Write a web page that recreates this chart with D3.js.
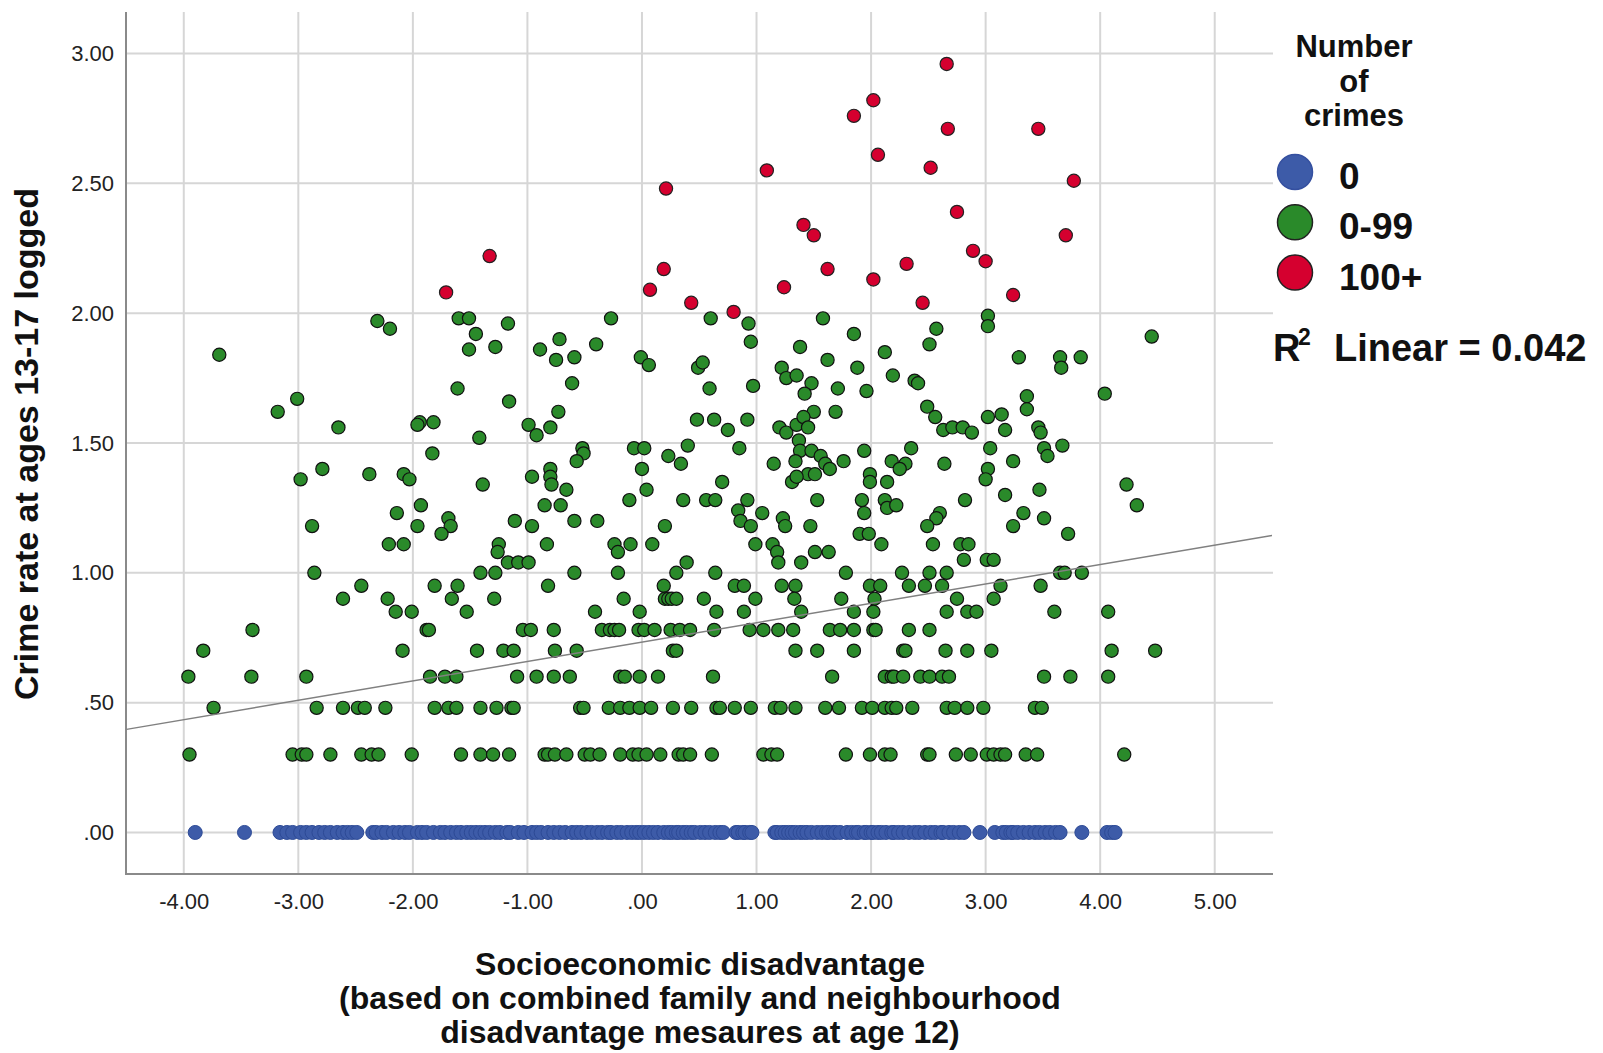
<!DOCTYPE html>
<html>
<head>
<meta charset="utf-8">
<script src="https://cdn.jsdelivr.net/npm/d3@7"></script>
<style>
  body { margin: 0; background: #fff; }
  svg { display: block; font-family: "Liberation Sans", Arial, sans-serif; }
</style>
</head>
<body>
<svg width="1603" height="1053"></svg>
<script>
// tick values
const xTicks = [-4, -3, -2, -1, 0, 1, 2, 3, 4, 5];
const yTicks = [0, 0.5, 1, 1.5, 2, 2.5, 3];

// group 0: no crimes (all at .00)
const zeroCrimes = [
    -3.90, -3.47,
    -3.16, -3.10, -3.05, -2.98, -2.93, -2.88, -2.82, -2.77, -2.72, -2.66, -2.61, -2.57, -2.53, -2.49,
    -2.35, -2.32, -2.27, -2.23, -2.17, -2.12, -2.07, -2.03, -1.96, -1.92, -1.88, -1.82, -1.76, -1.72,
    -1.67, -1.62, -1.58, -1.53, -1.49, -1.45, -1.41, -1.37, -1.33, -1.28, -1.24, -1.18,
    -1.15, -1.08, -1.03, -0.96, -0.92, -0.88, -0.82, -0.77, -0.72, -0.67, -0.61, -0.57, -0.53, -0.48,
    -0.44, -0.39, -0.35, -0.30, -0.27, -0.22, -0.18, -0.13, -0.09, -0.05, -0.02, 0.02, 0.06, 0.10,
    0.14, 0.19, 0.23, 0.26, 0.30, 0.32, 0.36, 0.39, 0.43, 0.46, 0.51, 0.55, 0.59, 0.64, 0.68, 0.71,
    0.82, 0.84, 0.88, 0.90, 0.94, 0.96,
    1.16, 1.18, 1.22, 1.25, 1.28, 1.31, 1.34, 1.38, 1.41, 1.44, 1.48, 1.53, 1.57, 1.61, 1.63, 1.67,
    1.69, 1.73, 1.79, 1.83, 1.87, 1.89, 1.94, 1.96, 2.00, 2.02, 2.06, 2.09, 2.13, 2.18, 2.20, 2.24,
    2.28, 2.33, 2.38, 2.42, 2.47, 2.52, 2.56, 2.61, 2.63, 2.68, 2.72, 2.77, 2.81,
    2.95, 3.08, 3.15, 3.18, 3.22, 3.24, 3.28, 3.33, 3.38, 3.43, 3.47, 3.52, 3.56, 3.61, 3.65,
    3.84, 4.06, 4.10, 4.13
];

// group 0-99: [disadvantage, logged rate]
const someCrimes = [
    [-2.31,1.97],[-2.20,1.94],[-1.60,1.98],[-1.51,1.98],[-3.69,1.84],[-1.45,1.92],[-1.51,1.86],[-1.28,1.87],
    [-1.61,1.71],[-3.01,1.67],[-3.18,1.62],[-2.65,1.56],[-1.94,1.58],[-1.96,1.57],[-1.82,1.58],[-1.42,1.52],
    [-1.83,1.46],[-2.79,1.40],[-2.98,1.36],[-2.38,1.38],[-2.08,1.38],[-2.03,1.36],[-1.39,1.34],[-1.93,1.26],
    [-2.14,1.23],[-2.88,1.18],[-1.96,1.18],[-1.69,1.21],[-1.67,1.18],[-1.75,1.15],[-2.21,1.11],[-2.08,1.11],
    [-1.25,1.11],[-1.26,1.08],[-2.86,1.00],[-1.41,1.00],[-1.28,1.00],[-2.45,0.95],[-1.81,0.95],[-1.61,0.95],
    [-2.61,0.90],[-2.22,0.90],[-1.66,0.90],[-1.29,0.90],
    [-2.15,0.85],[-2.01,0.85],[-1.53,0.85],
    [-3.40,0.78],[-1.88,0.78],[-1.86,0.78],
    [-3.83,0.70],[-2.09,0.70],[-1.44,0.70],[-1.21,0.70],
    [-3.96,0.60],[-3.41,0.60],[-2.93,0.60],[-1.85,0.60],[-1.72,0.60],[-1.62,0.60],
    [-3.74,0.48],[-2.84,0.48],[-2.61,0.48],[-2.48,0.48],[-2.42,0.48],[-2.24,0.48],[-1.81,0.48],[-1.69,0.48],
    [-1.62,0.48],[-1.41,0.48],[-1.27,0.48],
    [-3.95,0.30],[-3.05,0.30],[-2.97,0.30],[-2.93,0.30],[-2.72,0.30],[-2.45,0.30],[-2.36,0.30],[-2.30,0.30],
    [-2.01,0.30],[-1.58,0.30],[-1.41,0.30],[-1.30,0.30],
    [-1.17,1.96],[-0.27,1.98],[0.60,1.98],[0.93,1.96],[0.95,1.89],[1.58,1.98],[1.85,1.92],[1.38,1.87],
    [1.62,1.82],[2.12,1.85],[1.88,1.79],[2.19,1.76],
    [-0.72,1.90],[-0.89,1.86],[-0.75,1.82],[-0.59,1.83],[-0.40,1.88],[-0.61,1.73],[-1.16,1.66],[-0.73,1.62],
    [-0.99,1.57],[-0.92,1.53],[-0.80,1.56],
    [-0.01,1.83],[0.06,1.80],[0.49,1.79],[0.53,1.81],[0.59,1.71],[0.97,1.72],[0.48,1.59],[0.63,1.59],
    [0.92,1.59],[0.75,1.55],
    [1.22,1.79],[1.26,1.75],[1.35,1.76],[1.48,1.73],[1.42,1.69],[1.71,1.71],[1.96,1.70],[1.69,1.62],[1.50,1.62],
    [1.20,1.56],[1.26,1.54],[1.35,1.57],[1.41,1.60],[1.45,1.56],[1.37,1.51],[1.38,1.47],[1.48,1.47],
    [1.56,1.45],[1.34,1.43],[1.60,1.42],[1.64,1.40],[1.76,1.43],[1.94,1.47],[2.18,1.43],
    [-0.52,1.48],[-0.51,1.46],[-0.57,1.43],[-0.07,1.48],[0.02,1.48],[0.40,1.49],[0.23,1.45],[0.34,1.42],
    [0.85,1.48],[1.15,1.42],
    [-0.80,1.40],[-0.80,1.37],[-0.79,1.34],[-0.96,1.37],[-0.66,1.32],[0.00,1.40],[0.04,1.32],[0.70,1.35],
    [1.45,1.38],[1.51,1.38],[1.31,1.35],[1.35,1.37],[1.99,1.38],[1.99,1.35],[2.14,1.35],
    [-0.85,1.26],[-0.71,1.26],[-1.11,1.20],[-0.96,1.18],[-0.59,1.20],[-0.39,1.20],[-0.11,1.28],[0.36,1.28],
    [0.56,1.28],[0.64,1.28],[0.92,1.28],[1.05,1.23],[0.84,1.24],[0.86,1.20],[0.95,1.18],[0.20,1.18],
    [1.23,1.21],[1.25,1.18],[1.47,1.18],[1.53,1.28],[1.92,1.28],[1.94,1.23],[2.12,1.28],[2.14,1.25],
    [-0.83,1.11],[-0.24,1.11],[-0.21,1.08],[-0.10,1.11],[0.09,1.11],[0.99,1.11],[1.14,1.11],[1.18,1.08],
    [1.19,1.04],[1.39,1.04],[1.51,1.08],[1.63,1.08],[1.90,1.15],[1.98,1.15],[2.09,1.11],
    [-1.17,1.04],[-1.08,1.04],[-0.99,1.04],[-0.59,1.00],[-0.21,1.00],[0.30,1.00],[0.39,1.04],[0.64,1.00],
    [1.78,1.00],
    [-0.82,0.95],[0.19,0.95],[0.81,0.95],[0.89,0.95],[1.22,0.95],[1.34,0.95],[1.99,0.95],[2.08,0.95],
    [3.02,1.99],[3.02,1.95],[2.57,1.94],[2.51,1.88],[2.38,1.74],[2.41,1.73],[3.29,1.83],[3.65,1.83],
    [3.66,1.79],[3.83,1.83],[4.45,1.91],[4.04,1.69],[3.36,1.68],[3.36,1.63],[2.49,1.64],[2.56,1.60],
    [3.02,1.60],[3.14,1.61],[3.17,1.55],[3.46,1.56],[3.48,1.54],[2.63,1.55],[2.71,1.56],[2.80,1.56],
    [2.88,1.54],[2.35,1.48],[3.04,1.48],[3.51,1.48],[3.67,1.49],[3.54,1.45],[2.30,1.42],[2.25,1.40],
    [2.64,1.42],[3.24,1.43],[3.02,1.40],[3.00,1.36],[4.23,1.34],[3.47,1.32],[3.17,1.30],[2.82,1.28],
    [4.32,1.26],[2.22,1.26],[2.60,1.23],[2.57,1.21],[2.49,1.18],[3.33,1.23],[3.51,1.21],[3.24,1.18],
    [3.72,1.15],[2.54,1.11],[2.78,1.11],[2.85,1.11],[2.81,1.05],[3.01,1.05],[3.07,1.05],[2.27,1.00],
    [2.51,1.00],[2.66,1.00],[3.65,1.00],[3.69,1.00],[3.84,1.00],[2.33,0.95],[2.47,0.95],[2.62,0.95],
    [3.13,0.95],[3.48,0.95],
    [-0.16,0.90],[0.20,0.90],[0.23,0.90],[0.26,0.90],[0.30,0.90],[0.54,0.90],[0.99,0.90],[1.33,0.90],
    [1.74,0.90],[2.03,0.90],[2.75,0.90],[3.07,0.90],
    [-0.41,0.85],[-0.02,0.85],[0.65,0.85],[0.89,0.85],[1.39,0.85],[1.85,0.85],[2.02,0.85],
    [2.66,0.85],[2.84,0.85],[2.92,0.85],[3.60,0.85],[4.07,0.85],
    [-1.04,0.78],[-0.97,0.78],[-0.77,0.78],[-0.35,0.78],[-0.28,0.78],[-0.24,0.78],[-0.20,0.78],[-0.03,0.78],
    [0.02,0.78],[0.11,0.78],[0.25,0.78],[0.33,0.78],[0.42,0.78],[0.63,0.78],[0.94,0.78],[1.06,0.78],
    [1.19,0.78],[1.32,0.78],[1.64,0.78],[1.73,0.78],[1.85,0.78],[2.02,0.78],[2.04,0.78],[2.33,0.78],[2.51,0.78],
    [-1.12,0.70],[-0.76,0.70],[-0.57,0.70],[0.27,0.70],[0.30,0.70],[1.34,0.70],[1.53,0.70],[1.85,0.70],
    [2.28,0.70],[2.30,0.70],[2.65,0.70],[2.84,0.70],[3.05,0.70],[4.10,0.70],[4.48,0.70],
    [-1.09,0.60],[-0.92,0.60],[-0.77,0.60],[-0.63,0.60],[-0.19,0.60],[-0.15,0.60],[-0.02,0.60],[0.14,0.60],
    [0.62,0.60],[1.66,0.60],[2.12,0.60],[2.18,0.60],[2.20,0.60],[2.28,0.60],[2.43,0.60],[2.51,0.60],
    [2.62,0.60],[2.68,0.60],[3.51,0.60],[3.74,0.60],[4.07,0.60],
    [-1.14,0.48],[-1.12,0.48],[-0.54,0.48],[-0.51,0.48],[-0.29,0.48],[-0.19,0.48],[-0.11,0.48],[-0.02,0.48],
    [0.08,0.48],[0.27,0.48],[0.43,0.48],[0.65,0.48],[0.68,0.48],[0.81,0.48],[0.95,0.48],[1.16,0.48],
    [1.21,0.48],[1.34,0.48],[1.60,0.48],[1.72,0.48],[1.92,0.48],[2.01,0.48],[2.12,0.48],[2.18,0.48],
    [2.22,0.48],[2.36,0.48],[2.66,0.48],[2.73,0.48],[2.84,0.48],[2.98,0.48],[3.43,0.48],[3.49,0.48],
    [-1.16,0.30],[-0.85,0.30],[-0.82,0.30],[-0.76,0.30],[-0.66,0.30],[-0.50,0.30],[-0.45,0.30],[-0.37,0.30],
    [-0.19,0.30],[-0.08,0.30],[-0.03,0.30],[0.04,0.30],[0.16,0.30],[0.32,0.30],[0.36,0.30],[0.42,0.30],
    [0.61,0.30],[1.06,0.30],[1.13,0.30],[1.18,0.30],[1.78,0.30],[1.99,0.30],[2.12,0.30],[2.17,0.30],
    [2.49,0.30],[2.51,0.30],[2.74,0.30],[2.87,0.30],[3.01,0.30],[3.07,0.30],[3.13,0.30],[3.17,0.30],
    [3.35,0.30],[3.45,0.30],[4.21,0.30]
];

// group 100+
const manyCrimes = [
    [-1.33,2.22],[-1.71,2.08],[2.02,2.82],[1.85,2.76],[2.06,2.61],[1.09,2.55],[0.21,2.48],[1.41,2.34],
    [1.50,2.30],[0.19,2.17],[1.62,2.17],[2.02,2.13],[0.07,2.09],[1.24,2.10],[0.43,2.04],[0.80,2.005],
    [2.66,2.96],[2.67,2.71],[3.46,2.71],[2.52,2.56],[3.77,2.51],[2.75,2.39],[3.70,2.30],[2.89,2.24],
    [3.00,2.20],[2.31,2.19],[2.45,2.04],[3.24,2.07]
];

// linear fit
const fitIntercept = 0.733;
const fitSlope = 0.0747;

const groups = ['0', '0-99', '100+'];
const fills = ['#3d5ba8', '#2a8a2a', '#d5002f'];
const strokes = ['#2d4a96', '#111', '#222'];

const svg = d3.select('svg');

const x = d3.scaleLinear().domain([-4.5, 5.5]).range([126.5, 1272]);
const y = d3.scaleLinear().domain([-0.16, 3.16]).range([874, 12]);

// SPSS style: ".00", "-4.00" (plain hyphen)
const fmt = v => d3.format('.2f')(v).replace('\u2212', '-').replace(/^0\./, '.');

// grid
svg.append('g')
    .selectAll('line.vg')
    .data(xTicks)
    .enter().append('line')
    .attr('x1', d => x(d)).attr('x2', d => x(d))
    .attr('y1', y.range()[1]).attr('y2', y.range()[0])
    .attr('stroke', '#d6d6d6').attr('stroke-width', 2);

svg.append('g')
    .selectAll('line.hg')
    .data(yTicks)
    .enter().append('line')
    .attr('x1', x.range()[0]).attr('x2', 1273)
    .attr('y1', d => y(d)).attr('y2', d => y(d))
    .attr('stroke', '#d6d6d6').attr('stroke-width', 2);

// axis lines
svg.append('line')
    .attr('x1', 126).attr('x2', 126).attr('y1', 12).attr('y2', 875)
    .attr('stroke', '#8a8a8a').attr('stroke-width', 2);
svg.append('line')
    .attr('x1', 125).attr('x2', 1273).attr('y1', 874).attr('y2', 874)
    .attr('stroke', '#8a8a8a').attr('stroke-width', 2);

// tick labels
const xAxis = svg.append('g')
    .attr('transform', 'translate(0,874)')
    .call(d3.axisBottom(x).tickValues(xTicks).tickFormat(fmt).tickSize(0).tickPadding(19));
xAxis.select('.domain').remove();
xAxis.selectAll('text').attr('font-size', 22).attr('fill', '#222')
    .attr('font-family', '"Liberation Sans", Arial, sans-serif');

const yAxis = svg.append('g')
    .attr('transform', 'translate(126,0)')
    .call(d3.axisLeft(y).tickValues(yTicks).tickFormat(fmt).tickSize(0).tickPadding(12));
yAxis.select('.domain').remove();
yAxis.selectAll('text').attr('font-size', 22).attr('fill', '#222')
    .attr('font-family', '"Liberation Sans", Arial, sans-serif');

// points
const pts = svg.append('g');
pts.selectAll('circle.g0')
    .data(zeroCrimes)
    .enter().append('circle')
    .attr('cx', d => x(d)).attr('cy', y(0)).attr('r', 7)
    .attr('fill', fills[0]).attr('stroke', strokes[0]).attr('stroke-width', 1);

pts.selectAll('circle.g1')
    .data(someCrimes)
    .enter().append('circle')
    .attr('cx', d => x(d[0])).attr('cy', d => y(d[1])).attr('r', 6.6)
    .attr('fill', fills[1]).attr('stroke', strokes[1]).attr('stroke-width', 1.2);

pts.selectAll('circle.g2')
    .data(manyCrimes)
    .enter().append('circle')
    .attr('cx', d => x(d[0])).attr('cy', d => y(d[1])).attr('r', 6.6)
    .attr('fill', fills[2]).attr('stroke', strokes[2]).attr('stroke-width', 1.2);

// fit line
const [x0, x1] = x.domain();
svg.append('line')
    .attr('x1', x(x0)).attr('y1', y(fitIntercept + fitSlope * x0))
    .attr('x2', x(x1)).attr('y2', y(fitIntercept + fitSlope * x1))
    .attr('stroke', '#808080').attr('stroke-width', 1.4);

// axis titles
svg.append('text')
    .attr('transform', 'translate(38,444) rotate(-90)')
    .attr('text-anchor', 'middle')
    .attr('font-size', 34).attr('font-weight', 'bold').attr('fill', '#111')
    .text('Crime rate at ages 13-17 logged');

const xTitle = ['Socioeconomic disadvantage',
    '(based on combined family and neighbourhood',
    'disadvantage mesaures at age 12)'];
svg.append('g').selectAll('text')
    .data(xTitle)
    .enter().append('text')
    .attr('x', 700).attr('y', (d, i) => 975 + i * 34)
    .attr('text-anchor', 'middle')
    .attr('font-size', 32).attr('font-weight', 'bold').attr('fill', '#111')
    .text(d => d);

// legend
const legendTitle = ['Number', 'of', 'crimes'];
svg.append('g').selectAll('text')
    .data(legendTitle)
    .enter().append('text')
    .attr('x', 1354).attr('y', (d, i) => 57 + i * 34.7)
    .attr('text-anchor', 'middle')
    .attr('font-size', 31).attr('font-weight', 'bold').attr('fill', '#111')
    .text(d => d);

const lg = svg.append('g').selectAll('g')
    .data(groups)
    .enter().append('g')
    .attr('transform', (d, i) => `translate(0,${172 + i * 50.3})`);
lg.append('circle')
    .attr('cx', 1295).attr('cy', 0).attr('r', 17.5)
    .attr('fill', (d, i) => fills[i])
    .attr('stroke', (d, i) => i === 0 ? '#3550a0' : '#222')
    .attr('stroke-width', 1.5);
lg.append('text')
    .attr('x', 1339).attr('y', 17)
    .attr('font-size', 37).attr('font-weight', 'bold').attr('fill', '#111')
    .text(d => d);

const r2 = svg.append('text')
    .attr('y', 361)
    .attr('font-size', 38).attr('font-weight', 'bold').attr('fill', '#111');
r2.append('tspan').attr('x', 1273).text('R');
r2.append('tspan').attr('x', 1298).attr('y', 345).attr('font-size', 23).text('2');
r2.append('tspan').attr('x', 1334).attr('y', 361).text('Linear = 0.042');
</script>
</body>
</html>
